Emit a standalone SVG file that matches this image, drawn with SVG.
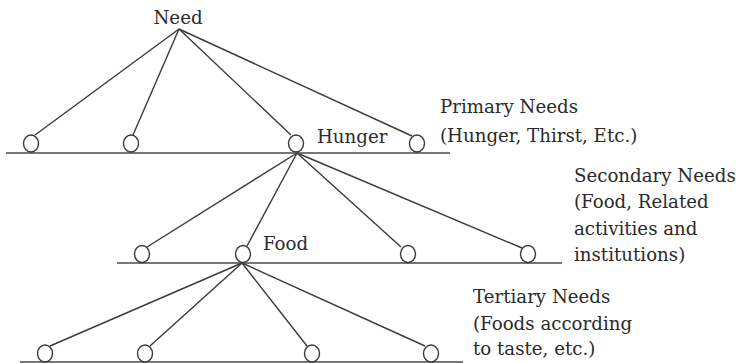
<svg xmlns="http://www.w3.org/2000/svg" width="741" height="363" viewBox="0 0 741 363">
<style>
.bg{fill:#fff}
.ln{stroke:#3a3a3a;stroke-width:1.4;fill:none}
.base{stroke:#4a4a4a;stroke-width:1.7}
.nd{fill:#fff;stroke:#3a3a3a;stroke-width:1.4}
text{font-family:"DejaVu Serif","Liberation Serif",serif;font-size:18.2px;fill:#2a2a2a}
</style>
<rect class="bg" width="741" height="363"/>
<g id="connectors">
<line class="ln" x1="179" y1="29" x2="35" y2="135"/>
<line class="ln" x1="179" y1="29" x2="133" y2="135"/>
<line class="ln" x1="179" y1="29" x2="291" y2="135"/>
<line class="ln" x1="179" y1="29" x2="412" y2="136"/>
<line class="ln" x1="297" y1="153" x2="147" y2="247"/>
<line class="ln" x1="297" y1="153" x2="247" y2="246"/>
<line class="ln" x1="297" y1="153" x2="401" y2="247"/>
<line class="ln" x1="297" y1="153" x2="522" y2="248"/>
<line class="ln" x1="242" y1="263" x2="50" y2="346"/>
<line class="ln" x1="242" y1="263" x2="150" y2="346"/>
<line class="ln" x1="242" y1="263" x2="307" y2="346"/>
<line class="ln" x1="242" y1="263" x2="425" y2="346"/>
</g>
<g id="levels">
<line class="base" x1="6" y1="153" x2="450" y2="153"/>
<line class="base" x1="117" y1="263" x2="562" y2="263"/>
<line class="base" x1="20" y1="362" x2="463" y2="362"/>
</g>
<g id="need"><text x="178" y="24" text-anchor="middle">Need</text></g>
<g id="p1"><ellipse class="nd" cx="31" cy="143.5" rx="7.5" ry="8.5"/></g>
<g id="p2"><ellipse class="nd" cx="131" cy="143.5" rx="7.5" ry="8.5"/></g>
<g id="hunger"><ellipse class="nd" cx="296" cy="143.5" rx="7.5" ry="8.5"/><text x="317" y="143">Hunger</text></g>
<g id="p4"><ellipse class="nd" cx="417" cy="143.5" rx="7.5" ry="8.5"/></g>
<g id="s1"><ellipse class="nd" cx="142" cy="254" rx="7.5" ry="8.5"/></g>
<g id="food"><ellipse class="nd" cx="243" cy="254" rx="7.5" ry="8.5"/><text x="263" y="250">Food</text></g>
<g id="s3"><ellipse class="nd" cx="408" cy="254" rx="7.5" ry="8.5"/></g>
<g id="s4"><ellipse class="nd" cx="528" cy="254" rx="7.5" ry="8.5"/></g>
<g id="t1"><ellipse class="nd" cx="45" cy="353.5" rx="7.5" ry="8.5"/></g>
<g id="t2"><ellipse class="nd" cx="145" cy="353.5" rx="7.5" ry="8.5"/></g>
<g id="t3"><ellipse class="nd" cx="312" cy="353.5" rx="7.5" ry="8.5"/></g>
<g id="t4"><ellipse class="nd" cx="431" cy="353.5" rx="7.5" ry="8.5"/></g>
<g id="primary"><text x="440" y="113">Primary Needs</text><text x="440" y="142">(Hunger, Thirst, Etc.)</text></g>
<g id="secondary"><text x="574" y="182">Secondary Needs</text><text x="574" y="208">(Food, Related</text><text x="574" y="235">activities and</text><text x="574" y="261">institutions)</text></g>
<g id="tertiary"><text x="473" y="303">Tertiary Needs</text><text x="473" y="330">(Foods according</text><text x="473" y="355">to taste, etc.)</text></g>
</svg>
